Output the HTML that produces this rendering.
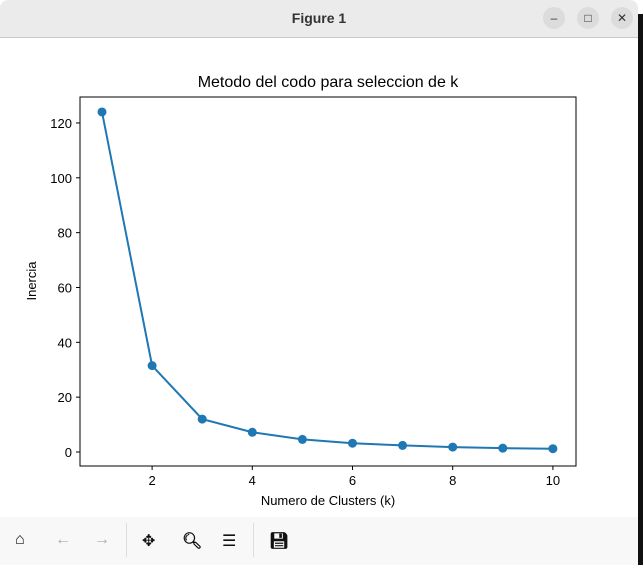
<!DOCTYPE html>
<html><head><meta charset="utf-8"><style>
body{margin:0;width:643px;height:565px;overflow:hidden;background:#fff;font-family:"Liberation Sans","DejaVu Sans",sans-serif;position:relative}
#titlebar{position:absolute;left:0;top:0;width:638px;height:37px;background:#ebebeb;border-bottom:1px solid #c8c8c8;border-radius:8px 8px 0 0}
#title{position:absolute;left:0;width:638px;top:10px;text-align:center;font-weight:bold;font-size:14px;color:#333}
.wb{position:absolute;top:7px;width:22px;height:22px;border-radius:11px;background:#dcdcdc;font-size:12px;text-align:center;line-height:22px;color:#333}
#edge{position:absolute;right:0;top:14px;width:5px;height:551px;background:#111}
#toolbar{position:absolute;left:0;top:517px;width:638px;height:48px;background:#f8f8f8}
.tb{position:absolute;top:14px;font-size:16px;color:#111;font-weight:bold}
.sep{position:absolute;top:6px;width:1px;height:34px;background:#ddd}
</style></head><body>
<div id="titlebar">
<div id="title">Figure 1</div>
<div class="wb" style="left:543px">–</div>
<div class="wb" style="left:577px">□</div>
<div class="wb" style="left:611px">✕</div>
</div>
<div id="edge"></div>
<svg id="chart" width="643" height="565" style="position:absolute;left:0;top:0"></svg>
<div id="toolbar">
<div class="tb" style="left:15px">⌂</div>
<div class="tb" style="left:55px;color:#aaa">←</div>
<div class="tb" style="left:94px;color:#aaa">→</div>
<div class="sep" style="left:126px"></div>
<div class="tb" style="left:142px">✥</div>
<div class="tb" style="left:182px">🔍︎</div>
<div class="tb" style="left:222px">☰</div>
<div class="sep" style="left:253px"></div>
<div class="tb" style="left:269px">💾︎</div>
</div>
<script>
const ks=[1,2,3,4,5,6,7,8,9,10];
const inertia=[124,31.5,12,7.2,4.6,3.2,2.4,1.8,1.4,1.2];
const xTicks=[2,4,6,8,10];
const yTicks=[0,20,40,60,80,100,120];
const L=80,R=576,T=97,B=466;
const x=v=>102+(v-1)*50.1;
const y=v=>452-v*2.742;
const svg=document.getElementById('chart');
const NS='http://www.w3.org/2000/svg';
function mk(t,a){const e=document.createElementNS(NS,t);for(const k in a)e.setAttribute(k,a[k]);svg.appendChild(e);return e;}
let ax=mk('rect',{x:L,y:T,width:R-L,height:B-T,fill:'none',stroke:'#000','stroke-width':1});


xTicks.forEach(t=>{
 const l=mk('line',{x1:x(t),x2:x(t),y1:B,y2:B+4,stroke:'#000'});
 
 
 const tx=mk('text',{x:x(t),y:B+19,'text-anchor':'middle','font-size':13,fill:'#000'});tx.textContent=t;
 
 
});
yTicks.forEach(t=>{
 const l=mk('line',{x1:L-4,x2:L,y1:y(t),y2:y(t),stroke:'#000'});
 
 
 const tx=mk('text',{x:L-8,y:y(t)+5,'text-anchor':'end','font-size':13,fill:'#000'});tx.textContent=t;
 
 
});
const pl=mk('polyline',{points:ks.map((k,i)=>x(k)+','+y(inertia[i])).join(' '),fill:'none',stroke:'#1f77b4','stroke-width':2});


ks.forEach((k,i)=>{
 const c=mk('circle',{cx:x(k),cy:y(inertia[i]),r:4.5,fill:'#1f77b4'});
 
 
});
let t1=mk('text',{x:328,y:87,'text-anchor':'middle','font-size':16,fill:'#000'});t1.textContent='Metodo del codo para seleccion de k';


let t2=mk('text',{x:328,y:505,'text-anchor':'middle','font-size':13,fill:'#000'});t2.textContent='Numero de Clusters (k)';


let t3=mk('text',{x:0,y:0,'text-anchor':'middle','font-size':13,fill:'#000',transform:'translate(36,281) rotate(-90)'});t3.textContent='Inercia';


</script>
</body></html>
